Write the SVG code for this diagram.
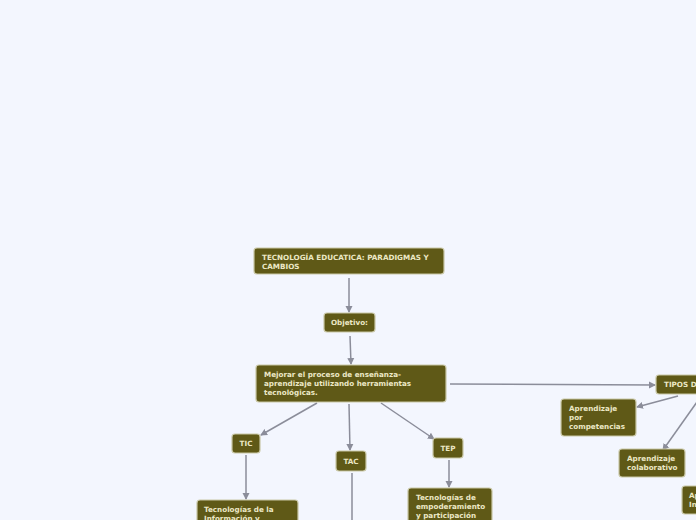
<svg xmlns="http://www.w3.org/2000/svg" width="696" height="520" viewBox="0 0 696 520">
<style>
.n rect{fill:#5f5917;stroke:#c9c7a6;stroke-width:1.2}
.n text{fill:#ece8c6;font-family:"DejaVu Sans",Verdana,sans-serif;font-weight:bold;font-size:7.2px}
.c line{stroke:#8b8d9a;stroke-width:1.5;fill:none}
.c line.a{marker-end:url(#ar)}
</style>
<defs>
<marker id="ar" markerWidth="8" markerHeight="8" refX="6" refY="4" orient="auto" markerUnits="userSpaceOnUse">
<path d="M0,0.5 L7,4 L0,7.5 Z" fill="#8b8d9a"/>
</marker>
</defs>
<rect width="696" height="520" fill="#f3f6fe"/>
<g id="connectors" class="c">
<line class="a" x1="349" y1="278" x2="349" y2="312"/>
<line class="a" x1="350" y1="336" x2="351" y2="364"/>
<line class="a" x1="317" y1="403" x2="261" y2="435"/>
<line class="a" x1="349" y1="404" x2="350" y2="450"/>
<line class="a" x1="381" y1="403" x2="434" y2="439"/>
<line class="a" x1="246" y1="455" x2="246" y2="499"/>
<line x1="352" y1="473" x2="352" y2="520"/>
<line class="a" x1="449" y1="460" x2="449" y2="487"/>
<line class="a" x1="450" y1="384" x2="655" y2="385"/>
<line class="a" x1="678" y1="396" x2="637" y2="407"/>
<line class="a" x1="697" y1="402" x2="663" y2="450"/>
</g>
<g id="n1" class="n"><rect x="254" y="248" width="190" height="26" rx="3"/><text x="262" y="260">TECNOLOGÍA EDUCATICA: PARADIGMAS Y</text><text x="262" y="268.5">CAMBIOS</text></g>
<g id="n2" class="n"><rect x="324" y="313" width="51" height="19" rx="3"/><text x="349.5" y="325" text-anchor="middle">Objetivo:</text></g>
<g id="n3" class="n"><rect x="256" y="365" width="190" height="37" rx="3"/><text x="264" y="377">Mejorar el proceso de enseñanza-</text><text x="264" y="386">aprendizaje utilizando herramientas</text><text x="264" y="395">tecnológicas.</text></g>
<g id="n4" class="n"><rect x="232" y="434" width="28" height="19" rx="3"/><text x="246" y="446" text-anchor="middle">TIC</text></g>
<g id="n5" class="n"><rect x="336" y="451" width="30" height="20" rx="3"/><text x="351" y="464" text-anchor="middle">TAC</text></g>
<g id="n6" class="n"><rect x="433" y="438" width="30" height="20" rx="3"/><text x="448" y="451" text-anchor="middle">TEP</text></g>
<g id="n7" class="n"><rect x="197" y="500" width="101" height="30" rx="3"/><text x="204" y="512">Tecnologías de la</text><text x="204" y="520.5">Información y</text></g>
<g id="n8" class="n"><rect x="408" y="488" width="84" height="40" rx="3"/><text x="416" y="500">Tecnologías de</text><text x="416" y="509">empoderamiento</text><text x="416" y="518">y participación</text></g>
<g id="n9" class="n"><rect x="656" y="375" width="60" height="19" rx="3"/><text x="664" y="387">TIPOS DE APRENDIZAJE</text></g>
<g id="n10" class="n"><rect x="561" y="399" width="75" height="37" rx="3"/><text x="569" y="411">Aprendizaje</text><text x="569" y="420">por</text><text x="569" y="429">competencias</text></g>
<g id="n11" class="n"><rect x="619" y="449" width="66" height="28" rx="3"/><text x="627" y="461">Aprendizaje</text><text x="627" y="470">colaborativo</text></g>
<g id="n12" class="n"><rect x="682" y="486" width="60" height="28" rx="3"/><text x="689" y="498">Aprendizaje</text><text x="689" y="507">Invertido</text></g>
</svg>
